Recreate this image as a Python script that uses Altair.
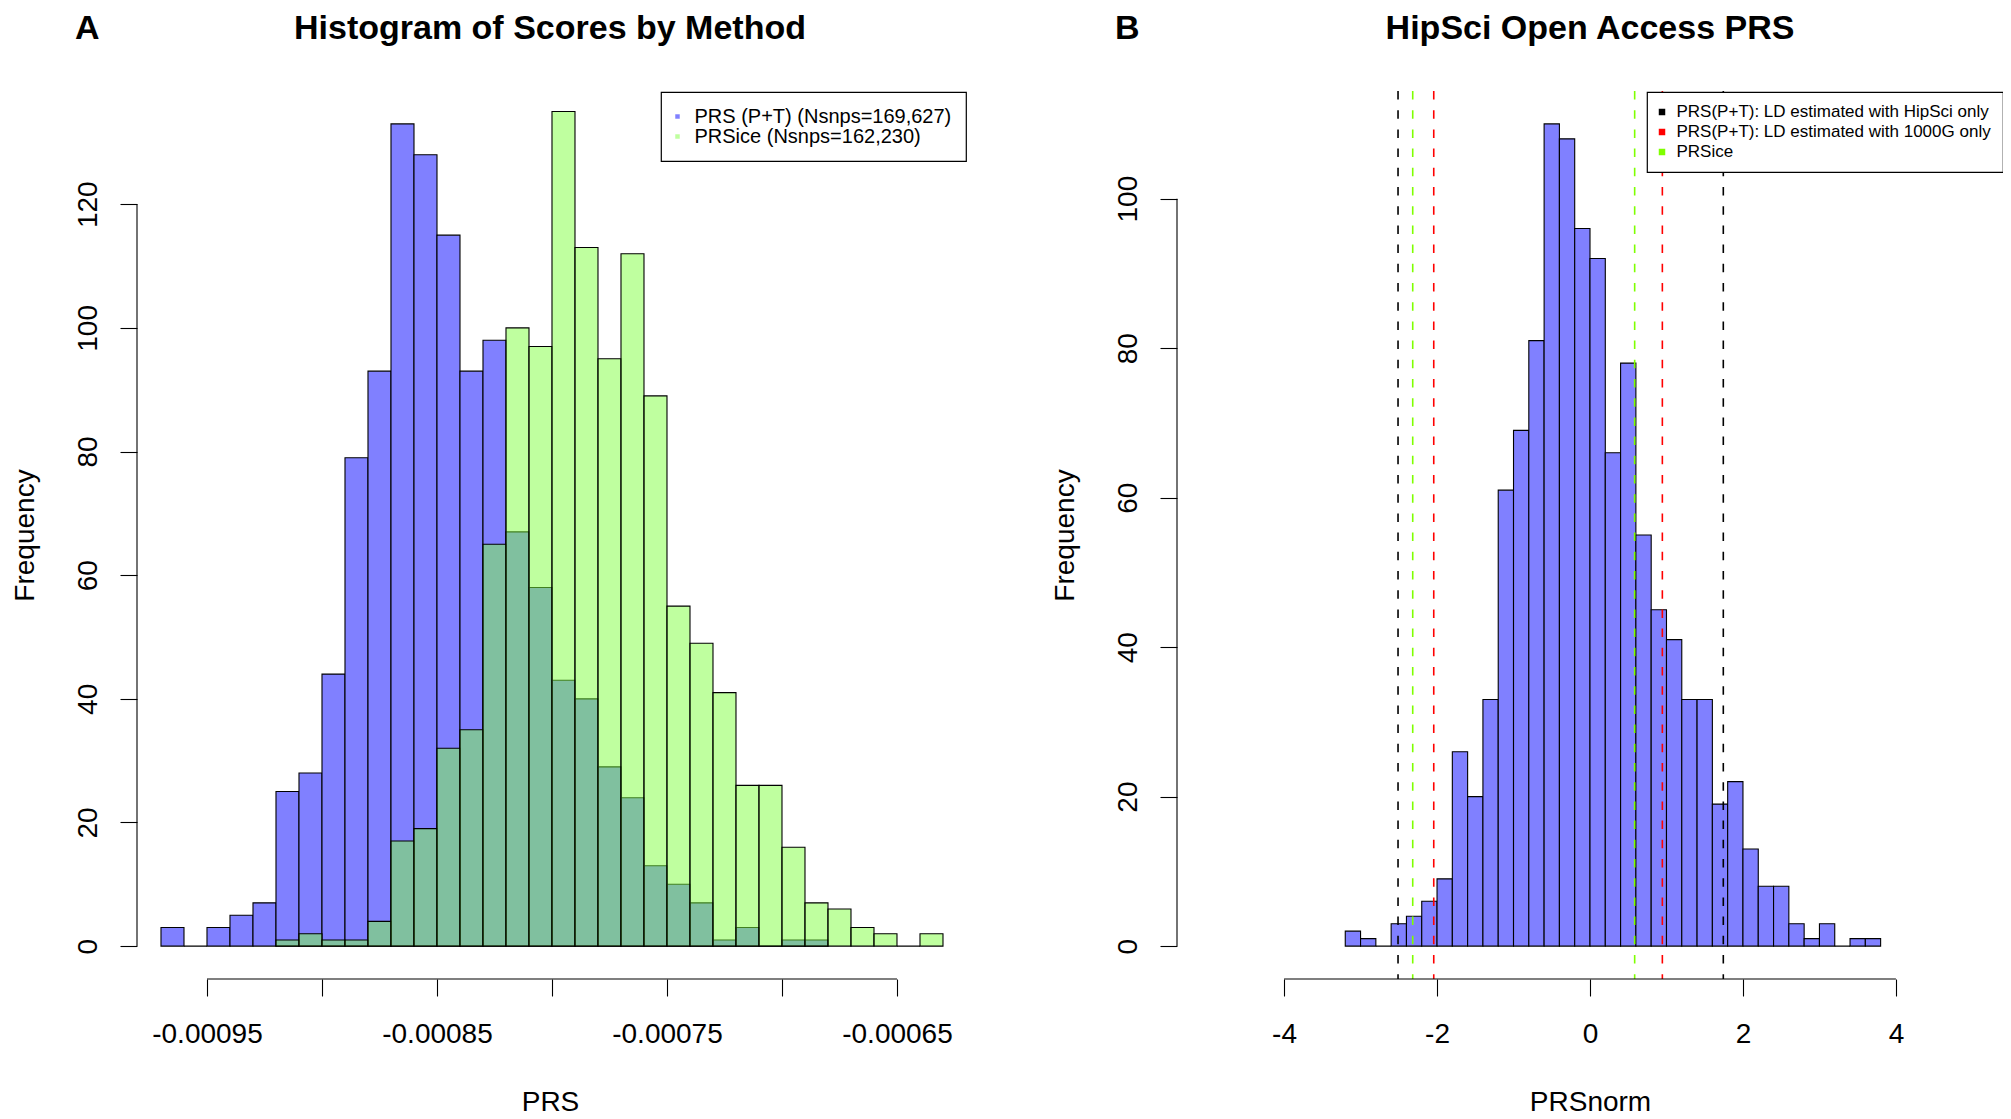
import altair as alt
import pandas as pd

FONT = "Liberation Sans"

# ---------------- Panel A data ----------------
A_BIN_LEFT = [-0.00097, -0.00096, -0.00095, -0.00094, -0.00093, -0.00092, -0.00091,
              -0.00090, -0.00089, -0.00088, -0.00087, -0.00086, -0.00085, -0.00084,
              -0.00083, -0.00082, -0.00081, -0.00080, -0.00079, -0.00078, -0.00077,
              -0.00076, -0.00075, -0.00074, -0.00073, -0.00072, -0.00071, -0.00070,
              -0.00069, -0.00068, -0.00067, -0.00066, -0.00065, -0.00064]
A_BIN_WIDTH = 0.00001
A_PRS = [3, 0, 3, 5, 7, 25, 28, 44, 79, 93, 133, 128, 115, 93, 98, 67, 58, 43, 40,
         29, 24, 13, 10, 7, 1, 3, 0, 1, 1, None, None, None, None, None]
A_PRSICE = [None, None, None, None, None, 1, 2, 1, 1, 4, 17, 19, 32, 35, 65, 100, 97,
            135, 113, 95, 112, 89, 55, 49, 41, 26, 26, 16, 7, 6, 3, 2, 0, 2]
A_X_TICKS = [-0.00095, -0.0009, -0.00085, -0.0008, -0.00075, -0.0007, -0.00065]
A_Y_TICKS = [0, 20, 40, 60, 80, 100, 120]
A_X_DOMAIN = [-0.00098043, -0.0006213]
A_Y_DOMAIN = [-5.32, 138.32]
A_TITLE = "Histogram of Scores by Method"
A_LEGEND = ["PRS (P+T) (Nsnps=169,627)", "PRSice (Nsnps=162,230)"]
A_LEGEND_COLORS = ["#8080FF", "#BFFF9F"]

# ---------------- Panel B data ----------------
B_BIN_LEFT = [-3.2, -3.0, -2.8, -2.6, -2.4, -2.2, -2.0, -1.8, -1.6, -1.4, -1.2, -1.0,
              -0.8, -0.6, -0.4, -0.2, 0.0, 0.2, 0.4, 0.6, 0.8, 1.0, 1.2, 1.4, 1.6,
              1.8, 2.0, 2.2, 2.4, 2.6, 2.8, 3.0, 3.2, 3.4, 3.6]
B_BIN_WIDTH = 0.2
B_COUNTS = [2, 1, 0, 3, 4, 6, 9, 26, 20, 33, 61, 69, 81, 110, 108, 96, 92, 66, 78,
            55, 45, 41, 33, 33, 19, 22, 13, 8, 8, 3, 1, 3, 0, 1, 1]
B_X_TICKS = [-4, -2, 0, 2, 4]
B_Y_TICKS = [0, 20, 40, 60, 80, 100]
B_X_DOMAIN = [-5.4, 5.4]
B_Y_DOMAIN = [-4.4, 114.4]
B_TITLE = "HipSci Open Access PRS"
B_LINE_VALUES = [-2.51, 1.743, -2.043, 0.946, -2.318, 0.584]
B_LINE_COLORS = ["#000000", "#000000", "#FF0000", "#FF0000", "#7FFF00", "#7FFF00"]
B_LEGEND = ["PRS(P+T): LD estimated with HipSci only",
            "PRS(P+T): LD estimated with 1000G only",
            "PRSice"]
B_LEGEND_COLORS = ["#000000", "#FF0000", "#7FFF00"]

W, H = 826, 888
PAGE_W, PAGE_H = 1995, 1103
PAD_L, PAD_T = 129, 83
TITLE_Y = -52


def bins_df(lefts, width, counts):
    rows = [{"left": l, "right": l + width, "count": c}
            for l, c in zip(lefts, counts) if c is not None]
    return pd.DataFrame(rows)


def x_axis(ticks, label_expr, title):
    return alt.Axis(values=ticks, labelExpr=label_expr, title=title,
                    labelBaseline="alphabetic", labelPadding=46, labelAlign="center",
                    titleBaseline="alphabetic", titleY=131, titleAnchor="middle")


def y_axis(ticks):
    return alt.Axis(values=ticks, title="Frequency", labelAngle=-90,
                    labelAlign="center", labelBaseline="alphabetic", labelPadding=24,
                    titleAngle=-90, titleBaseline="alphabetic", titleAlign="center",
                    titleX=-104, titleY=H / 2, format="d")


def panel(df_list, x_dom, y_dom, x_ticks, y_ticks, x_expr, x_title, title, letter,
          legend_labels, legend_colors, legend_props, extra_layers):
    xs = alt.Scale(domain=x_dom, nice=False, zero=False)
    ys = alt.Scale(domain=y_dom, nice=False, zero=False)
    xa = x_axis(x_ticks, x_expr, x_title)
    ya = y_axis(y_ticks)

    layers = []
    for df, fill, op in df_list:
        layers.append(
            alt.Chart(df).mark_rect(fill=fill, fillOpacity=op, stroke="black",
                                    strokeWidth=1.1)
            .encode(x=alt.X("left:Q", scale=xs, axis=xa),
                    x2="right:Q",
                    y=alt.Y("count:Q", scale=ys, axis=ya),
                    y2=alt.datum(0))
        )
    layers.extend(extra_layers(xs, ys, xa, ya))

    xline = pd.DataFrame({"lo": [min(x_ticks)], "hi": [max(x_ticks)]})
    yline = pd.DataFrame({"lo": [min(y_ticks)], "hi": [max(y_ticks)]})
    layers.append(
        alt.Chart(xline).mark_rule(color="black", strokeWidth=1.1)
        .encode(x=alt.X("lo:Q", scale=xs, axis=xa), x2="hi:Q", y=alt.value("height"))
    )
    layers.append(
        alt.Chart(yline).mark_rule(color="black", strokeWidth=1.1)
        .encode(y=alt.Y("lo:Q", scale=ys, axis=ya), y2="hi:Q", x=alt.value(0))
    )
    leg_df = pd.DataFrame({"label": legend_labels})
    layers.append(
        alt.Chart(leg_df).mark_square(opacity=0)
        .encode(color=alt.Color("label:N",
                                scale=alt.Scale(domain=legend_labels, range=legend_colors),
                                legend=alt.Legend(**legend_props)))
    )
    # panel letter and panel title
    letter_df = pd.DataFrame({"letter": [letter]})
    layers.append(
        alt.Chart(letter_df).mark_text(align="left", baseline="alphabetic", fontSize=34,
                                       fontWeight="bold", font=FONT, color="black")
        .encode(text="letter:N", x=alt.value(-62), y=alt.value(TITLE_Y))
    )
    title_df = pd.DataFrame({"title": [title]})
    layers.append(
        alt.Chart(title_df).mark_text(align="center", baseline="alphabetic", fontSize=34,
                                      fontWeight="bold", font=FONT, color="black")
        .encode(text="title:N", x=alt.value(W / 2), y=alt.value(TITLE_Y))
    )
    return alt.layer(*layers).properties(width=W, height=H)


common_leg = dict(title=None, orient="none", legendY=1, symbolType="square",
                  symbolStrokeWidth=0, symbolOpacity=1, labelFont=FONT,
                  labelColor="black", strokeColor="black", fillColor="white",
                  labelLimit=0, cornerRadius=0)

legA = dict(common_leg, legendX=524, symbolSize=20, labelFontSize=20, labelOffset=7,
            symbolOffset=-8, padding=14.5, rowPadding=0)
legB = dict(common_leg, legendX=470, symbolSize=42, labelFontSize=17, labelOffset=6,
            symbolOffset=-5, padding=11.5, rowPadding=2)

dfA_prs = bins_df(A_BIN_LEFT, A_BIN_WIDTH, A_PRS)
dfA_ice = bins_df(A_BIN_LEFT, A_BIN_WIDTH, A_PRSICE)
dfB = bins_df(B_BIN_LEFT, B_BIN_WIDTH, B_COUNTS)

exprA = "round(datum.value*100000) % 10 != 0 ? '-' + format(abs(datum.value), '.5f') : ''"
exprB = "datum.value < 0 ? '-' + format(abs(datum.value), 'd') : format(datum.value, 'd')"


def no_extra(xs, ys, xa, ya):
    return []


def b_lines(xs, ys, xa, ya):
    ldf = pd.DataFrame({"v": B_LINE_VALUES, "c": B_LINE_COLORS})
    return [alt.Chart(ldf).mark_rule(strokeDash=[8.5, 10.7], strokeWidth=1.6)
            .encode(x=alt.X("v:Q", scale=xs, axis=xa),
                    color=alt.Color("c:N", scale=None))]


chartA = panel([(dfA_prs, "#8080FF", 1.0), (dfA_ice, "#80FF40", 0.5)],
               A_X_DOMAIN, A_Y_DOMAIN, A_X_TICKS, A_Y_TICKS, exprA, "PRS",
               A_TITLE, "A", A_LEGEND, A_LEGEND_COLORS, legA, no_extra)
chartB = panel([(dfB, "#8080FF", 1.0)],
               B_X_DOMAIN, B_Y_DOMAIN, B_X_TICKS, B_Y_TICKS, exprB, "PRSnorm",
               B_TITLE, "B", B_LEGEND, B_LEGEND_COLORS, legB, b_lines)

chart = (
    alt.hconcat(chartA, chartB, spacing=214, bounds="flush")
    .resolve_scale(color="independent")
    .resolve_legend(color="independent")
    .properties(autosize=alt.AutoSizeParams(type="none"),
                padding={"left": PAD_L, "top": PAD_T,
                         "right": PAGE_W - PAD_L, "bottom": PAGE_H - PAD_T})
    .configure_view(stroke=None)
    .configure_axis(labelFont=FONT, titleFont=FONT, labelFontSize=28, titleFontSize=28,
                    titleFontWeight="normal", labelColor="black", titleColor="black",
                    tickColor="black", tickWidth=1.1, tickSize=17, domain=False,
                    grid=False, labelFlush=False, labelOverlap=False)
    .configure_legend(strokeWidth=1.2)
)

chart.save("out.html", embed_options={"renderer": "svg", "actions": False})
